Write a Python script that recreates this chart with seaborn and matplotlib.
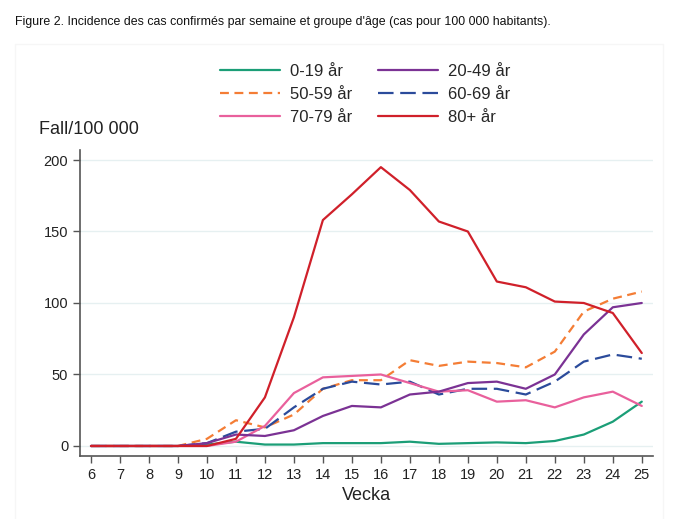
import numpy as np
import pandas as pd
import matplotlib
matplotlib.use("Agg")
import matplotlib.pyplot as plt
import seaborn as sns
from matplotlib.patches import Rectangle

weeks = list(range(6, 26))
groups = ["0-19 år", "20-49 år", "50-59 år", "60-69 år", "70-79 år", "80+ år"]

inc_0_19 = [0, 0, 0, 0, 1, 3, 1, 1, 2, 2, 2, 3, 1.5, 2, 2.5, 2, 3.5, 8, 17, 31]
inc_20_49 = [0, 0, 0, 0, 2, 8, 7, 11, 21, 28, 27, 36, 38, 44, 45, 40, 50, 78, 97, 100]
inc_50_59 = [0, 0, 0, 0, 5, 18, 13, 22, 40, 46, 46, 60, 56, 59, 58, 55, 66, 94, 103, 108]
inc_60_69 = [0, 0, 0, 0, 2, 10, 12, 27, 40, 45, 43, 45, 36, 40, 40, 36, 45, 59, 64, 61]
inc_70_79 = [0, 0, 0, 0, 0, 3, 14, 37, 48, 49, 50, 44, 38, 39, 31, 32, 27, 34, 38, 28]
inc_80 = [0, 0, 0, 0, 0, 5, 34, 90, 158, 176, 195, 179, 157, 150, 115, 111, 101, 100, 93, 65]

colors = {"0-19 år": "#1b9e77", "20-49 år": "#7b3294", "50-59 år": "#f47d35",
          "60-69 år": "#2b4b9b", "70-79 år": "#e9609c", "80+ år": "#d0202a"}
dashes = {"0-19 år": "", "20-49 år": "", "50-59 år": (4, 2.5),
          "60-69 år": (7, 3), "70-79 år": "", "80+ år": ""}

series = [inc_0_19, inc_20_49, inc_50_59, inc_60_69, inc_70_79, inc_80]
df = pd.DataFrame({
    "Vecka": weeks * len(groups),
    "Fall": sum(series, []),
    "Grupp": [g for g in groups for _ in weeks],
})

sns.set_style("white")
plt.rcParams["font.family"] = ["Liberation Sans", "DejaVu Sans"]

fig = plt.figure(figsize=(6.8, 5.19), dpi=100)
ax = fig.add_axes([0.1176, 0.1214, 0.8424, 0.5896])

# faint frame around the chart area
fig.patches.append(Rectangle((0.022, -0.01), 0.953, 0.925, transform=fig.transFigure,
                             fill=False, edgecolor="#f6f6f6", linewidth=1))

# draw order so red ends on top like the reference
draw_order = ["0-19 år", "50-59 år", "60-69 år", "70-79 år", "20-49 år", "80+ år"]
for g in draw_order:
    sub = df[df["Grupp"] == g]
    sns.lineplot(data=sub, x="Vecka", y="Fall", color=colors[g], lw=1.6,
                 dashes=False, ax=ax, legend=False)
    line = ax.lines[-1]
    if dashes[g]:
        line.set_dashes(dashes[g])
    line.set_label(g)

ax.set_xlim(5.62, 25.38)
ax.set_ylim(-7, 207)
ax.set_xticks(weeks)
ax.set_yticks([0, 50, 100, 150, 200])
ax.grid(axis="y", color="#e6f0f1", lw=1)
ax.set_axisbelow(True)
for s in ["top", "right"]:
    ax.spines[s].set_visible(False)
for s in ["left", "bottom"]:
    ax.spines[s].set_color("#555555")
    ax.spines[s].set_linewidth(1.2)
ax.tick_params(axis="both", direction="out", length=5, width=1, color="#555555",
               labelsize=10.5, labelcolor="#222222", bottom=True, left=True)
ax.set_xlabel("Vecka", fontsize=13, color="#222222", labelpad=4)
ax.set_ylabel("")
fig.text(0.058, 0.742, "Fall/100 000", fontsize=13, color="#222222")
fig.text(0.022, 0.952, "Figure 2. Incidence des cas confirmés par semaine et groupe d'âge "
         "(cas pour 100 000 habitants).", fontsize=8.9, color="#111111")

handles = {l.get_label(): l for l in ax.lines}
# column-major order for a row-wise reading legend
order = ["0-19 år", "50-59 år", "70-79 år", "20-49 år", "60-69 år", "80+ år"]
fig.legend([handles[g] for g in order], order, ncol=2, frameon=False,
           loc="center", bbox_to_anchor=(0.537, 0.818), fontsize=12,
           handlelength=3.6, columnspacing=1.5, labelspacing=0.5, handletextpad=0.6)

fig.savefig("out.png", dpi=100)
